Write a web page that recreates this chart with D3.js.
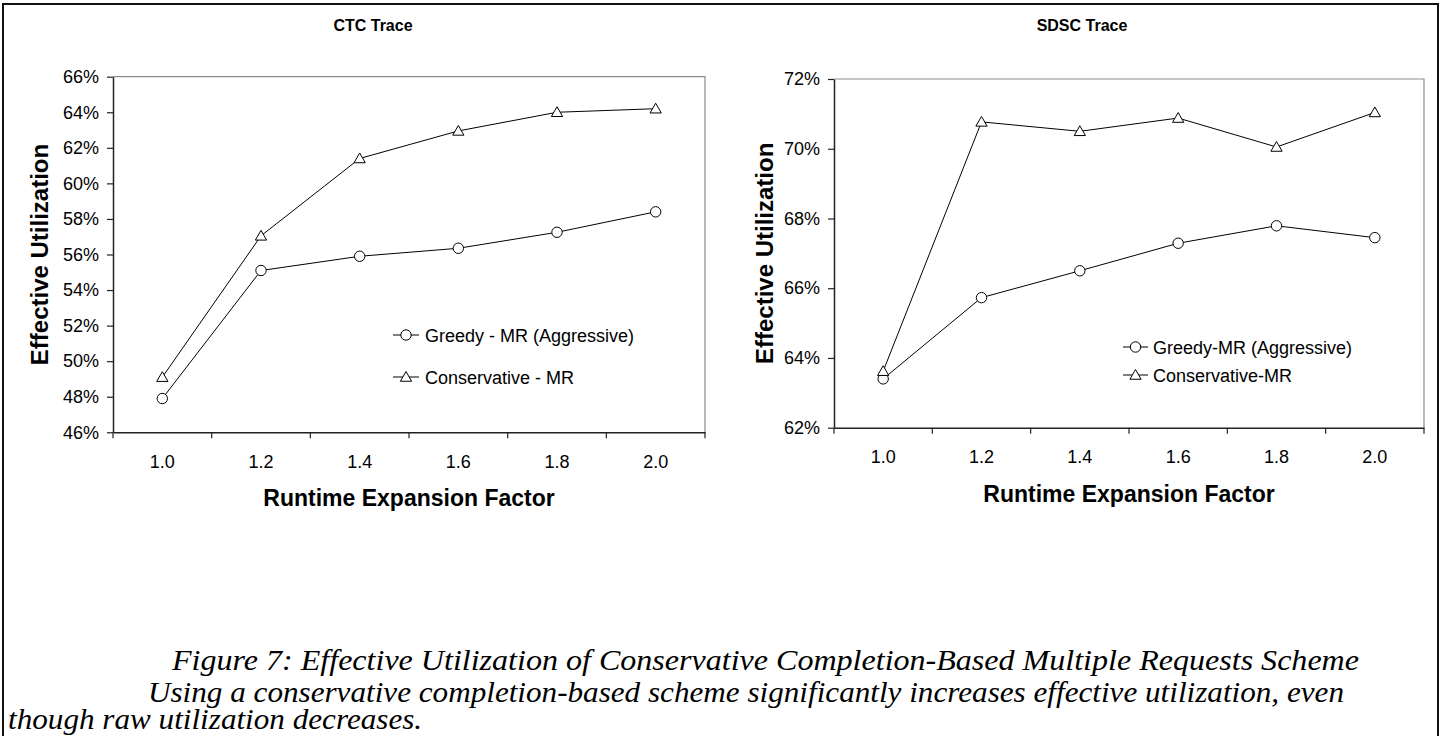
<!DOCTYPE html>
<html>
<head>
<meta charset="utf-8">
<script src="https://cdn.jsdelivr.net/npm/d3@7"></script>
<style>
  html, body { margin: 0; padding: 0; background: #fff; }
  svg { display: block; }
  .caption { font-family: "Liberation Serif", "Times New Roman", Times, serif; font-style: italic; }
</style>
</head>
<body>
<svg id="fig" width="1442" height="736"></svg>
<script>
// Runtime expansion factors (x categories)
const factors = ["1.0", "1.2", "1.4", "1.6", "1.8", "2.0"];

// CTC trace: effective utilization (%)
const ctcGreedy       = [47.9, 55.1, 55.9, 56.35, 57.25, 58.4];
const ctcConservative = [49.1, 57.05, 61.4, 62.95, 64.0, 64.2];
const ctcTicks        = [46, 48, 50, 52, 54, 56, 58, 60, 62, 64, 66];

// SDSC trace: effective utilization (%)
const sdscGreedy       = [63.4, 65.73, 66.5, 67.29, 67.79, 67.45];
const sdscConservative = [63.62, 70.77, 70.5, 70.88, 70.05, 71.04];
const sdscTicks        = [62, 64, 66, 68, 70, 72];

const ctcLegend  = ["Greedy - MR (Aggressive)", "Conservative - MR"];
const sdscLegend = ["Greedy-MR (Aggressive)", "Conservative-MR"];

const captionLines = [
  "Figure 7: Effective Utilization of Conservative Completion-Based Multiple Requests Scheme",
  "Using a conservative completion-based scheme significantly increases effective utilization, even",
  "though raw utilization decreases."
];

const svg = d3.select("#fig");
const SANS = "'Liberation Sans', Arial, sans-serif";

// outer frame around the figure
svg.append("rect")
  .attr("x", 3).attr("y", 4).attr("width", 1435).attr("height", 745)
  .attr("fill", "none").attr("stroke", "#111").attr("stroke-width", 2);

const triangle = d3.symbol().type(d3.symbolTriangle).size(55);

function marker(sel, kind) {
  if (kind === "circle") {
    sel.append("circle").attr("r", 5.2)
      .attr("fill", "#fff").attr("stroke", "#000").attr("stroke-width", 1);
  } else {
    sel.append("path").attr("d", triangle).attr("transform", "translate(0,1)")
      .attr("fill", "#fff").attr("stroke", "#000").attr("stroke-width", 1);
  }
}

function panel(cfg) {
  const g = svg.append("g");
  const x = d3.scaleBand().domain(factors).range([cfg.left, cfg.right]).padding(0);
  const y = d3.scaleLinear().domain(d3.extent(cfg.ticks)).range([cfg.bottom, cfg.top]);

  // plot frame: light top/right edges
  g.append("path")
    .attr("d", `M${cfg.left},${cfg.top}H${cfg.right}V${cfg.bottom}`)
    .attr("fill", "none").attr("stroke", "#8c8c8c").attr("stroke-width", 1.2);

  // y axis
  const ya = g.append("g").attr("transform", `translate(${cfg.left},0)`)
    .call(d3.axisLeft(y).tickValues(cfg.ticks).tickFormat(d => d + "%")
      .tickSize(6).tickPadding(8).tickSizeOuter(0));
  ya.select(".domain").attr("stroke", "#222").attr("stroke-width", 1.5);
  ya.selectAll(".tick line").attr("stroke", "#222").attr("stroke-width", 1.2);
  ya.selectAll("text").attr("font-family", SANS).attr("font-size", 18).attr("fill", "#000");

  // x axis: labels centered in bands, ticks at band boundaries
  const xa = g.append("g").attr("transform", `translate(0,${cfg.bottom})`)
    .call(d3.axisBottom(x).tickSize(0).tickPadding(23).tickSizeOuter(0));
  xa.select(".domain").attr("stroke", "#222").attr("stroke-width", 1.5);
  xa.selectAll("text").attr("font-family", SANS).attr("font-size", 18).attr("fill", "#000");
  const edges = factors.map(f => x(f)).concat([x(factors[factors.length - 1]) + x.bandwidth()]);
  g.selectAll(".xtick").data(edges).enter().append("line")
    .attr("x1", d => d).attr("x2", d => d)
    .attr("y1", cfg.bottom).attr("y2", cfg.bottom + 6)
    .attr("stroke", "#222").attr("stroke-width", 1.2);

  // series
  const line = d3.line().x((d, i) => x(factors[i]) + x.bandwidth() / 2).y(d => y(d));
  cfg.series.forEach(s => {
    g.append("path").datum(s.values).attr("d", line)
      .attr("fill", "none").attr("stroke", "#000").attr("stroke-width", 1);
    g.selectAll(null).data(s.values).enter().append("g")
      .attr("transform", (d, i) => `translate(${x(factors[i]) + x.bandwidth() / 2},${y(d)})`)
      .each(function () { marker(d3.select(this), s.kind); });
  });

  // titles
  g.append("text").attr("x", cfg.titleX).attr("y", 31)
    .attr("text-anchor", "middle").attr("font-family", SANS)
    .attr("font-weight", "bold").attr("font-size", 16).text(cfg.title);
  g.append("text").attr("x", (cfg.left + cfg.right) / 2).attr("y", cfg.bottom + 74)
    .attr("text-anchor", "middle").attr("font-family", SANS)
    .attr("font-weight", "bold").attr("font-size", 23).text("Runtime Expansion Factor");
  g.append("text")
    .attr("transform", `translate(${cfg.yTitleX},${(cfg.top + cfg.bottom) / 2}) rotate(-90)`)
    .attr("text-anchor", "middle").attr("font-family", SANS)
    .attr("font-weight", "bold").attr("font-size", 24).text("Effective Utilization");

  // legend
  cfg.series.forEach((s, i) => {
    const ly = cfg.legend.y[i];
    g.append("line").attr("x1", cfg.legend.x0).attr("x2", cfg.legend.x1)
      .attr("y1", ly).attr("y2", ly).attr("stroke", "#000").attr("stroke-width", 1);
    const m = g.append("g").attr("transform", `translate(${(cfg.legend.x0 + cfg.legend.x1) / 2},${ly})`);
    marker(m, s.kind);
    g.append("text").attr("x", cfg.legend.tx).attr("y", ly + 6.5)
      .attr("font-family", SANS).attr("font-size", 18).text(cfg.legendLabels[i]);
  });
}

panel({
  title: "CTC Trace", titleX: 373,
  left: 113, right: 705, top: 76.7, bottom: 432.3,
  ticks: ctcTicks, yTitleX: 48,
  series: [{ values: ctcGreedy, kind: "circle" }, { values: ctcConservative, kind: "triangle" }],
  legendLabels: ctcLegend,
  legend: { x0: 393, x1: 419, tx: 425, y: [335, 377] }
});

panel({
  title: "SDSC Trace", titleX: 1082,
  left: 834, right: 1424, top: 79, bottom: 427.7,
  ticks: sdscTicks, yTitleX: 773,
  series: [{ values: sdscGreedy, kind: "circle" }, { values: sdscConservative, kind: "triangle" }],
  legendLabels: sdscLegend,
  legend: { x0: 1123, x1: 1148, tx: 1153, y: [347, 375] }
});

// caption: lines 1 and 2 fill their measure, the last line keeps the same scale
const cap = [
  { x: 172, y: 670, w: 1187 },
  { x: 148, y: 702, w: 1196 },
  { x: 8,   y: 729, w: null }
];
const capText = svg.selectAll(".caption").data(captionLines).enter().append("text")
  .attr("class", "caption")
  .attr("x", (d, i) => cap[i].x).attr("y", (d, i) => cap[i].y)
  .attr("font-size", 30)
  .text(d => d);
const natural = capText.nodes().map(n => n.getComputedTextLength());
const stretch = cap[1].w / natural[1];
capText.attr("textLength", (d, i) => cap[i].w || natural[i] * stretch)
  .attr("lengthAdjust", "spacingAndGlyphs");
</script>
</body>
</html>
